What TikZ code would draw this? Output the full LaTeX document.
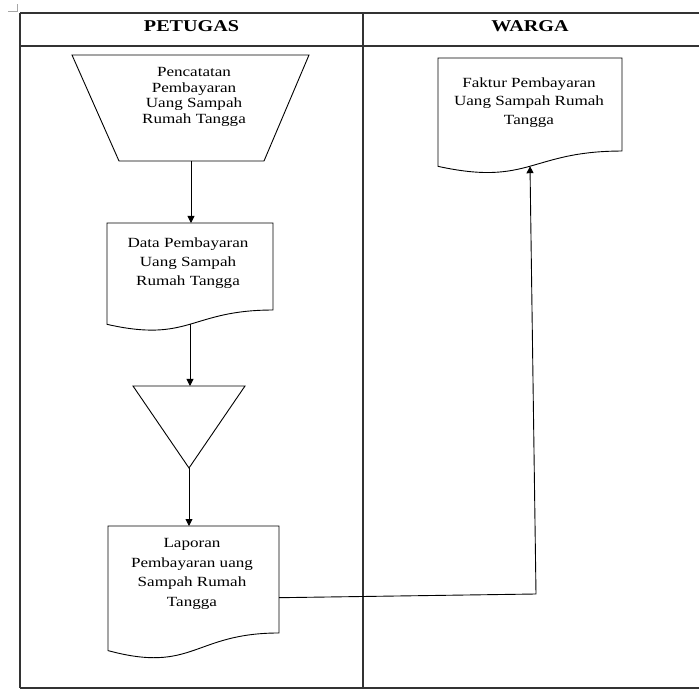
\documentclass[tikz,border=0pt]{standalone}
\usepackage{fontspec}
\setmainfont{Liberation Serif}[FakeStretch=1.22]
\usetikzlibrary{arrows.meta,calc}
\newcommand\docpath[1]{%
  \draw[shp] (#1.north west) -- (#1.north east)
    -- ($(#1.north east)!0.802!(#1.south east)$)
    .. controls ($(#1.north)!0.802!(#1.south)$) and ($(#1.north)!1.1075!(#1.south)$)
    .. ($(#1.north west)!0.934!(#1.south west)$) -- cycle;}
\begin{document}
\begin{tikzpicture}[x=1pt,y=-1pt,
  tbl/.style={line width=1.2pt, draw=black!80},
  shp/.style={line width=0.9pt, draw=black},
  arr/.style={line width=0.9pt, draw=black, -{Triangle[length=7pt,width=7pt]}},
  frame/.style={inner sep=0pt, outer sep=0pt},
  txt/.style={inner sep=0pt, align=center, anchor=north, font=\fontsize{14}{19}\selectfont},
  hdr/.style={inner sep=0pt, anchor=base, font=\bfseries\fontsize{16.5}{20}\selectfont}]
\useasboundingbox (0,0) rectangle (699,692);
% corner mark
\draw[black!35, line width=0.6pt] (8,11) -- (17.5,11) -- (17.5,4);
% table
\draw[tbl] (20,13) -- (699,13);
\draw[tbl] (20,46) -- (699,46);
\draw[tbl] (20,688) -- (699,688);
\draw[tbl] (20,13) -- (20,688);
\draw[tbl] (363,13) -- (363,688);
\node[hdr] (hp) at (191.5,32) {PETUGAS};
\node[hdr] (hw) at (530,32) {WARGA};
% frames
\node[frame, minimum width=237pt, minimum height=106pt] (man) at (190.5,108) {};
\node[frame, minimum width=166pt, minimum height=108.5pt] (d1) at (190,277.25) {};
\node[frame, minimum width=112pt, minimum height=82pt] (tri) at (189,427) {};
\node[frame, minimum width=171pt, minimum height=133.4pt] (d3) at (193.5,592.7) {};
\node[frame, minimum width=184pt, minimum height=116pt] (fak) at (530,116) {};
% shapes
\draw[shp] (man.north west) -- (man.north east) -- ([xshift=-45pt]man.south east) -- ([xshift=47pt]man.south west) -- cycle;
\docpath{d1}
\draw[shp] (tri.north west) -- (tri.north east) -- (tri.south) -- cycle;
\docpath{d3}
\docpath{fak}
% texts
\node[txt, font=\fontsize{14}{15.5}\selectfont] (tman) at (194,67.5) {Pencatatan\\Pembayaran\\Uang Sampah\\Rumah Tangga};
\node[txt] (td1) at (188,237.5) {Data Pembayaran\\Uang Sampah\\Rumah Tangga};
\node[txt, font=\fontsize{14}{19.5}\selectfont] (td3) at (192,538.5) {Laporan\\Pembayaran uang\\Sampah Rumah\\Tangga};
\node[txt, font=\fontsize{14}{18.5}\selectfont] (tfak) at (529,77.5) {Faktur Pembayaran\\Uang Sampah Rumah\\Tangga};
% connectors
\coordinate (d1w) at ($(d1.north)!0.933!(d1.south)$);
\coordinate (fakw) at ($(fak.north)!0.933!(fak.south)$);
\coordinate (d3out) at ($(d3.east)+(0,5)$);
\coordinate (bend) at (536,594);
\draw[arr] (man.south |- man.south) ++(0.5,0) coordinate (mans) -- (mans |- d1.north);
\draw[arr] (d1w) -- (d1w |- tri.north);
\draw[arr] (tri.south) -- (tri.south |- d3.north);
\draw[arr] (d3out) -- (bend) -- (fakw);
\end{tikzpicture}
\end{document}
